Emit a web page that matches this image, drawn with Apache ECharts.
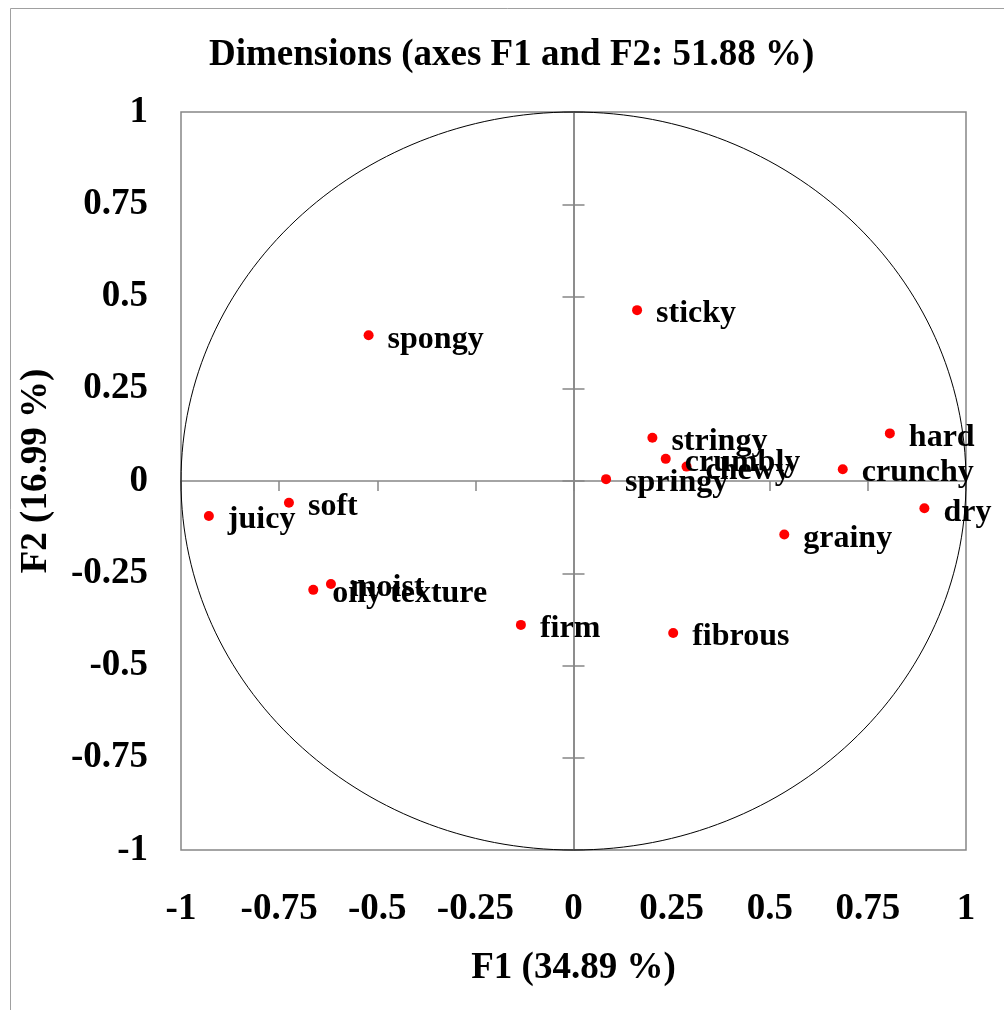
<!DOCTYPE html>
<html>
<head>
<meta charset="utf-8">
<title>Dimensions (axes F1 and F2: 51.88 %)</title>
<script src="https://cdn.jsdelivr.net/npm/echarts@6/dist/echarts.min.js"></script>
<style>
  html, body { margin: 0; padding: 0; background: #fff; }
  #chart { width: 1004px; height: 1010px; }
</style>
</head>
<body>
<div id="chart"></div>
<script>
// Variable loadings on the first two factors
const variables = ['sticky', 'spongy', 'stringy', 'crumbly', 'chewy', 'springy', 'hard', 'crunchy',
  'dry', 'grainy', 'fibrous', 'firm', 'soft', 'juicy', 'moist', 'oily texture'];
const f1Values = [0.162, -0.522, 0.201, 0.235, 0.288, 0.083, 0.806, 0.686,
  0.894, 0.537, 0.254, -0.134, -0.725, -0.929, -0.618, -0.663];
const f2Values = [0.463, 0.395, 0.117, 0.060, 0.039, 0.005, 0.129, 0.032,
  -0.074, -0.145, -0.412, -0.390, -0.059, -0.095, -0.279, -0.295];

// Correlation circle: centre and radius in axis units
const correlationCircle = [[0, 0, 1]];

const axisMin = -1;
const axisMax = 1;
const axisStep = 0.25;

const FONT = '"Liberation Serif", "Times New Roman", serif';
const GRAY = '#868686';

const points = variables.map((name, i) => ({ name: name, value: [f1Values[i], f2Values[i]] }));

const chart = echarts.init(document.getElementById('chart'), null, { renderer: 'canvas' });

const scaleBase = { type: 'value', min: axisMin, max: axisMax, interval: axisStep, splitLine: { show: false } };

chart.setOption({
  backgroundColor: '#fff',
  animation: false,
  title: {
    text: 'Dimensions (axes F1 and F2: 51.88 %)',
    left: 204,
    top: 32,
    textStyle: { fontFamily: FONT, fontWeight: 'bold', fontSize: 37, color: '#000' }
  },
  graphic: [{
    type: 'rect',
    silent: true,
    z: -10,
    shape: { x: 10.5, y: 8.5, width: 1000, height: 1010 },
    style: { fill: 'none', stroke: '#a0a0a0', lineWidth: 1 }
  }],
  grid: {
    left: 181, right: 38, top: 112, bottom: 160,
    show: true, borderColor: GRAY, borderWidth: 1.5, backgroundColor: 'transparent'
  },
  xAxis: [
    Object.assign({}, scaleBase, {
      position: 'bottom',
      axisLine: { show: false, onZero: false },
      axisTick: { show: false },
      axisLabel: { margin: 41, fontFamily: FONT, fontWeight: 'bold', fontSize: 37, color: '#000' },
      name: 'F1 (34.89 %)',
      nameLocation: 'middle',
      nameGap: 100,
      nameTextStyle: { fontFamily: FONT, fontWeight: 'bold', fontSize: 37, color: '#000' }
    }),
    Object.assign({}, scaleBase, {
      position: 'top',
      axisLine: { show: true, onZero: true, onZeroAxisIndex: 0, lineStyle: { color: GRAY, width: 1.5 } },
      axisTick: { show: true, inside: true, length: 10, lineStyle: { color: GRAY, width: 1.5 } },
      axisLabel: { show: false }
    })
  ],
  yAxis: [
    Object.assign({}, scaleBase, {
      position: 'left',
      axisLine: { show: false, onZero: false },
      axisTick: { show: false },
      axisLabel: { margin: 33, padding: [6, 0, 0, 0], fontFamily: FONT, fontWeight: 'bold', fontSize: 37, color: '#000' },
      name: 'F2 (16.99 %)',
      nameLocation: 'middle',
      nameGap: 126,
      nameTextStyle: { fontFamily: FONT, fontWeight: 'bold', fontSize: 37, color: '#000', padding: [0, 0, 0, 20] }
    }),
    Object.assign({}, scaleBase, {
      position: 'left',
      axisLine: { show: true, onZero: true, onZeroAxisIndex: 0, lineStyle: { color: GRAY, width: 1.5 } },
      axisTick: { show: true, inside: false, length: 11, lineStyle: { color: GRAY, width: 1.5 } },
      axisLabel: { show: false }
    }),
    Object.assign({}, scaleBase, {
      position: 'right',
      axisLine: { show: true, onZero: true, onZeroAxisIndex: 0, lineStyle: { color: GRAY, width: 1.5 } },
      axisTick: { show: true, inside: false, length: 11, lineStyle: { color: GRAY, width: 1.5 } },
      axisLabel: { show: false }
    })
  ],
  series: [
    {
      type: 'custom',
      name: 'circle',
      xAxisIndex: 0,
      yAxisIndex: 0,
      silent: true,
      clip: false,
      z: 1,
      data: correlationCircle,
      renderItem: function (params, api) {
        const c = api.coord([api.value(0), api.value(1)]);
        const r = api.size([api.value(2), api.value(2)]);
        return {
          type: 'ellipse',
          shape: { cx: c[0], cy: c[1], rx: r[0], ry: r[1] },
          style: { fill: 'none', stroke: '#000', lineWidth: 1 }
        };
      }
    },
    {
      type: 'scatter',
      name: 'variables',
      xAxisIndex: 0,
      yAxisIndex: 0,
      z: 5,
      symbol: 'circle',
      symbolSize: 10,
      itemStyle: { color: '#ff0000', opacity: 1 },
      data: points,
      label: {
        show: true,
        position: 'right',
        distance: 14,
        offset: [0, 4],
        formatter: '{b}',
        fontFamily: FONT,
        fontWeight: 'bold',
        fontSize: 32,
        color: '#000'
      }
    }
  ]
});
</script>
</body>
</html>
